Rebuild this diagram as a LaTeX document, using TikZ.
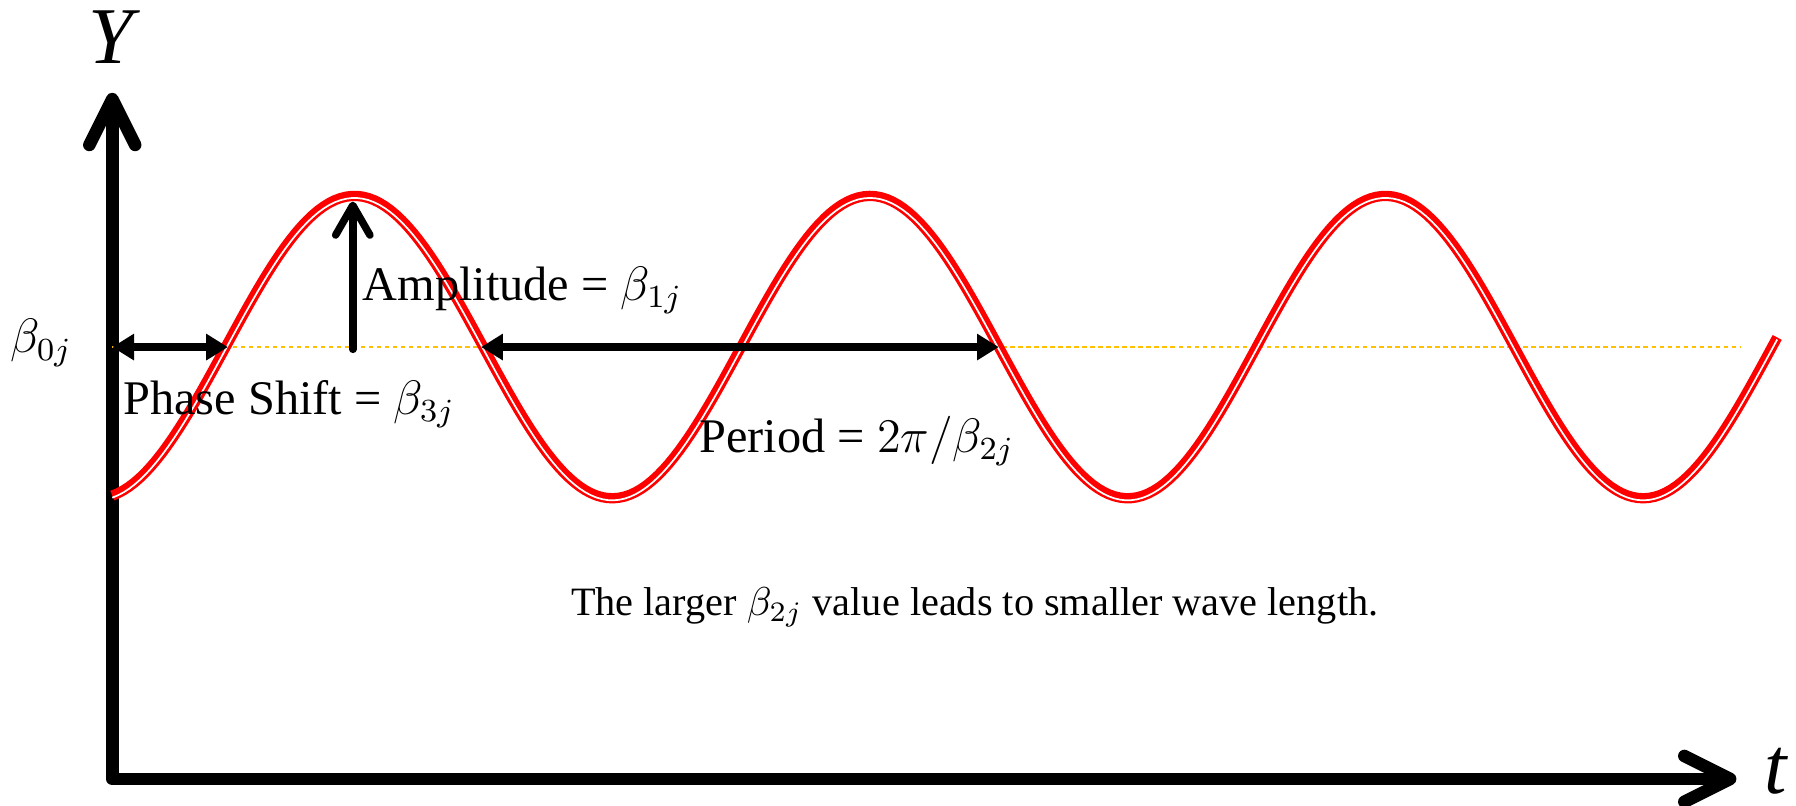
\documentclass[tikz,border=0pt]{standalone}
\usepackage{fontspec}
\setmainfont{Liberation Serif}
\usetikzlibrary{arrows.meta, positioning, calc}
\definecolor{wavered}{RGB}{255,0,0}
\definecolor{midorange}{RGB}{255,192,0}

\begin{document}
\begin{tikzpicture}[
  declare function={wv(\x)=4+1.32*sin(360*(\x-1.97)/4.5);},
  axisline/.style={line width=0.11cm, line join=round, line cap=round},
  dimline/.style={line width=0.065cm, {Triangle[length=0.19cm,width=0.22cm]}-{Triangle[length=0.19cm,width=0.22cm]}},
  lbl/.style={font=\fontsize{12}{14}\selectfont, inner sep=0pt},
  notelbl/.style={font=\fontsize{10}{12}\selectfont, inner sep=0pt},
  biglbl/.style={font=\fontsize{20}{24}\selectfont\itshape, inner sep=0pt}
]
  \useasboundingbox (0,0) rectangle (15.68,7.03);

  % axes
  \coordinate (O) at (0.98,0.23);
  \coordinate (ytip) at (0.98,6.22);
  \coordinate (ttip) at (15.16,0.23);
  \draw[axisline, {Straight Barb[length=0.40cm,width=0.40cm,round]}-{Straight Barb[length=0.40cm,width=0.40cm,round]}]
    (ytip) -- (O) -- (ttip);
  \node[biglbl, anchor=base] (ylab) at (0.97,6.48) {Y};
  \node[biglbl, anchor=base] (tlab) at (15.50,0.10) {t};

  % mean level
  \coordinate (m0) at (0.98,4.0);
  \coordinate (m1) at (15.20,4.0);
  \draw[midorange, line width=0.017cm, dash pattern=on 0.04cm off 0.03cm] (m0) -- (m1);
  \node[lbl, anchor=base] (b0) at (0.36,3.95) {$\beta_{0j}$};

  % the wave
  \draw[wavered, line width=0.09cm] plot[domain=0.98:15.52, samples=300] (\x,{wv(\x)});
  \draw[white, line width=0.015cm, yshift=-0.018cm] plot[domain=0.98:15.52, samples=300] (\x,{wv(\x)});

  % phase shift
  \coordinate (ps) at (1.99,4.0);
  \draw[dimline] (m0) -- (ps);
  \node[lbl, anchor=base west] (pslab) at (1.07,3.41) {Phase Shift = $\beta_{3j}$};

  % amplitude
  \coordinate (a0) at (3.08,3.98);
  \coordinate (a1) at (3.08,5.27);
  \draw[line width=0.065cm, line cap=round, -{Straight Barb[length=0.26cm,width=0.30cm,round]}] (a0) -- (a1);
  \node[lbl, anchor=base west] (amplab) at (3.16,4.41) {Amplitude = $\beta_{1j}$};

  % period
  \coordinate (p0) at (4.20,4.0);
  \coordinate (p1) at (8.72,4.0);
  \draw[dimline] (p0) -- (p1);
  \node[lbl, anchor=base west] (perlab) at (6.10,3.08) {Period = $2\pi/\beta_{2j}$};

  \node[notelbl, anchor=base] (note) at (8.51,1.66) {The larger $\beta_{2j}$ value leads to smaller wave length.};
\end{tikzpicture}
\end{document}
